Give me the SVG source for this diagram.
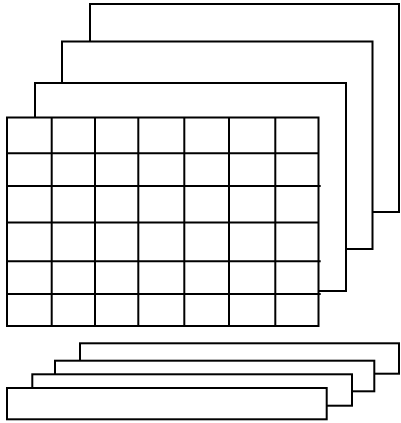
<svg xmlns="http://www.w3.org/2000/svg" width="401" height="423" viewBox="0 0 401 423">
<style>
rect{fill:#fff;stroke:#000;stroke-width:2}
line{stroke:#000;stroke-width:2}
</style>
<rect x="0" y="0" width="401" height="423" style="stroke:none"/>
<g id="layer1"><rect x="90" y="4" width="309" height="208"/></g>
<g id="layer2"><rect x="62" y="41.5" width="310.5" height="207.5"/></g>
<g id="layer3"><rect x="35" y="83" width="311" height="208"/></g>
<g id="grid">
<rect x="7" y="117.5" width="311.5" height="208.5"/>
<line x1="51.7" y1="117.5" x2="51.7" y2="326"/>
<line x1="95" y1="117.5" x2="95" y2="326"/>
<line x1="138.3" y1="117.5" x2="138.3" y2="326"/>
<line x1="184.3" y1="117.5" x2="184.3" y2="326"/>
<line x1="229" y1="117.5" x2="229" y2="326"/>
<line x1="275.3" y1="117.5" x2="275.3" y2="326"/>
<line x1="7" y1="153.3" x2="319" y2="153.3"/>
<line x1="7" y1="186" x2="320.7" y2="186"/>
<line x1="7" y1="222.5" x2="318.5" y2="222.5"/>
<line x1="7" y1="261.3" x2="320.7" y2="261.3"/>
<line x1="7" y1="294" x2="320.7" y2="294"/>
</g>
<g id="bar1"><rect x="80" y="343.3" width="319" height="30.4"/></g>
<g id="bar2"><rect x="55" y="360.7" width="319.3" height="30.6"/></g>
<g id="bar3"><rect x="32.3" y="374.3" width="319.7" height="31.4"/></g>
<g id="bar4"><rect x="7" y="388" width="319.7" height="31.3"/></g>
<g id="connectors"/>
</svg>
